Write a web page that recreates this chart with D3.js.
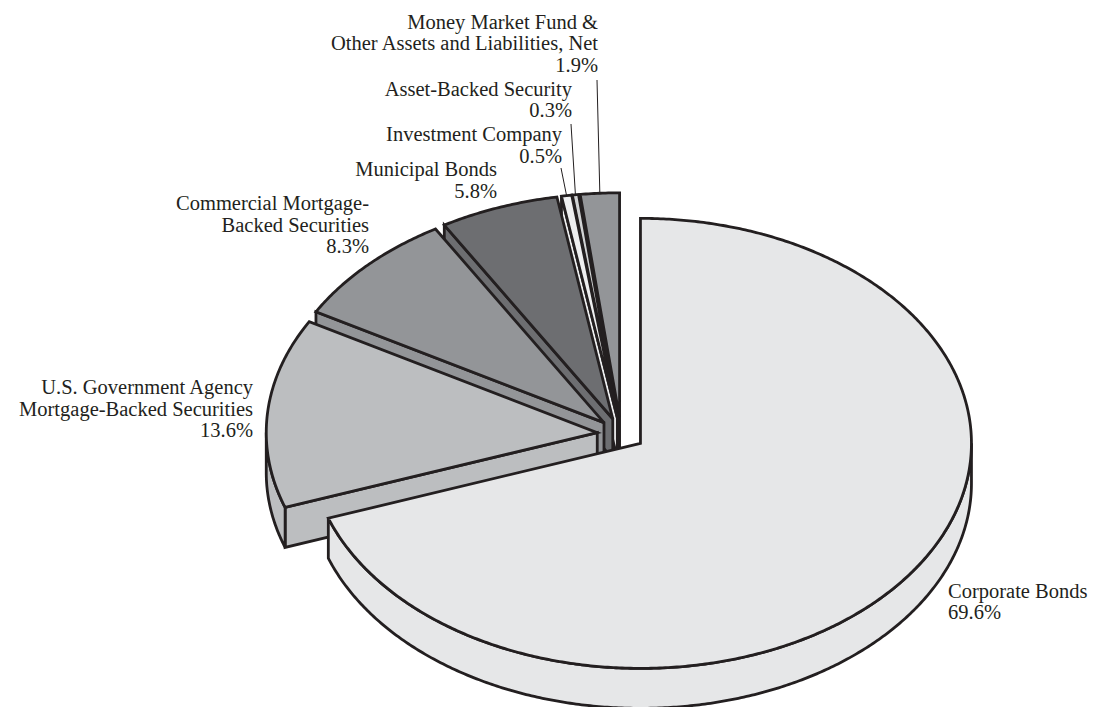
<!DOCTYPE html>
<html><head><meta charset="utf-8">
<script src="https://cdn.jsdelivr.net/npm/d3@7"></script>
<style>body{margin:0;background:#fff}svg{display:block}</style>
</head><body><svg id="chart" width="1093" height="707"></svg>
<script>
// ---- data ----
const categories = ["Corporate Bonds", "U.S. Government Agency Mortgage-Backed Securities",
  "Commercial Mortgage-Backed Securities", "Municipal Bonds", "Investment Company",
  "Asset-Backed Security", "Money Market Fund & Other Assets and Liabilities, Net"];
const values = [69.6, 13.6, 8.3, 5.8, 0.5, 0.3, 1.9];
const labelLines = [
  ["Corporate Bonds", "69.6%"],
  ["U.S. Government Agency", "Mortgage-Backed Securities", "13.6%"],
  ["Commercial Mortgage-", "Backed Securities", "8.3%"],
  ["Municipal Bonds", "5.8%"],
  ["Investment Company", "0.5%"],
  ["Asset-Backed Security", "0.3%"],
  ["Money Market Fund &", "Other Assets and Liabilities, Net", "1.9%"]
];
const fills = ["#e6e7e8", "#bcbec0", "#939598", "#6d6e71", "#eeeff0", "#d1d3d4", "#939598"];

// ---- layout ----
const cx = 621, cy = 434, rx = 331, ry = 225, depth = 40, explode = 0.072;
const fontSize = 20.5, lineH = 21.5;
const labelPos = [
  {x: 948, y: 597.5, anchor: "start", leader: null},
  {x: 253, y: 394, anchor: "end", leader: null},
  {x: 369, y: 210, anchor: "end", leader: null},
  {x: 497, y: 176, anchor: "end", leader: null},
  {x: 562, y: 141, anchor: "end", leader: [561, 168]},
  {x: 572, y: 95.8, anchor: "end", leader: [571, 124]},
  {x: 598, y: 28.8, anchor: "end", leader: [597, 80]}
];
const stroke = "#231f20", sw = 2.8;

const svg = d3.select("#chart");
const pie = d3.pie().sort(null).value(d => d).startAngle(0).endAngle(2 * Math.PI);
const arcs = pie(values).map((a, i) => {
  const mid = (a.startAngle + a.endAngle) / 2;
  const ax = cx + explode * rx * Math.sin(mid);
  const ay = cy - explode * ry * Math.cos(mid);
  return {i, a0: a.startAngle, a1: a.endAngle, mid, ax, ay};
});

function pt(s, a, dz = 0) { return [s.ax + rx * Math.sin(a), s.ay - ry * Math.cos(a) + dz]; }
function arcPts(s, a0, a1, dz = 0) {
  const n = Math.max(2, Math.ceil((a1 - a0) / (Math.PI / 360)));
  return d3.range(n + 1).map(k => pt(s, a0 + (a1 - a0) * k / n, dz));
}
const line = d3.line().curve(d3.curveLinear);
function poly(pts) { return line(pts) + "Z"; }

const order = arcs.slice().sort((p, q) => (-Math.cos(p.mid)) - (-Math.cos(q.mid)));
const g = svg.append("g");
order.forEach(s => {
  const fill = fills[s.i];
  const apexT = [s.ax, s.ay], apexB = [s.ax, s.ay + depth];
  const faces = [];
  if (Math.sin(s.a0) < -1e-6) {
    faces.push([apexT, pt(s, s.a0), pt(s, s.a0, depth), apexB]);
  }
  if (Math.sin(s.a1) > 1e-6) {
    faces.push([apexT, pt(s, s.a1), pt(s, s.a1, depth), apexB]);
  }
  const w0 = Math.max(s.a0, Math.PI / 2), w1 = Math.min(s.a1, 3 * Math.PI / 2);
  if (w1 > w0) {
    faces.push(arcPts(s, w0, w1).concat(arcPts(s, w0, w1, depth).reverse()));
  }
  faces.push([apexT].concat(arcPts(s, s.a0, s.a1)));
  faces.forEach(f => {
    g.append("path").attr("d", poly(f)).attr("fill", fill)
      .attr("stroke", stroke).attr("stroke-width", sw).attr("stroke-linejoin", "miter");
  });
});

// leaders
arcs.forEach(s => {
  const lp = labelPos[s.i];
  if (!lp.leader) return;
  const end = pt(s, s.mid);
  svg.append("line").attr("x1", lp.leader[0]).attr("y1", lp.leader[1])
    .attr("x2", end[0]).attr("y2", end[1]).attr("stroke", stroke).attr("stroke-width", 1);
});

// labels
labelLines.forEach((lines, i) => {
  const lp = labelPos[i];
  const t = svg.append("text").attr("font-family", "'Liberation Serif', 'Times New Roman', serif")
    .attr("font-size", fontSize).attr("fill", stroke).attr("text-anchor", lp.anchor);
  lines.forEach((l, k) => t.append("tspan").attr("x", lp.x).attr("y", lp.y + k * lineH).text(l));
});
</script></body></html>
